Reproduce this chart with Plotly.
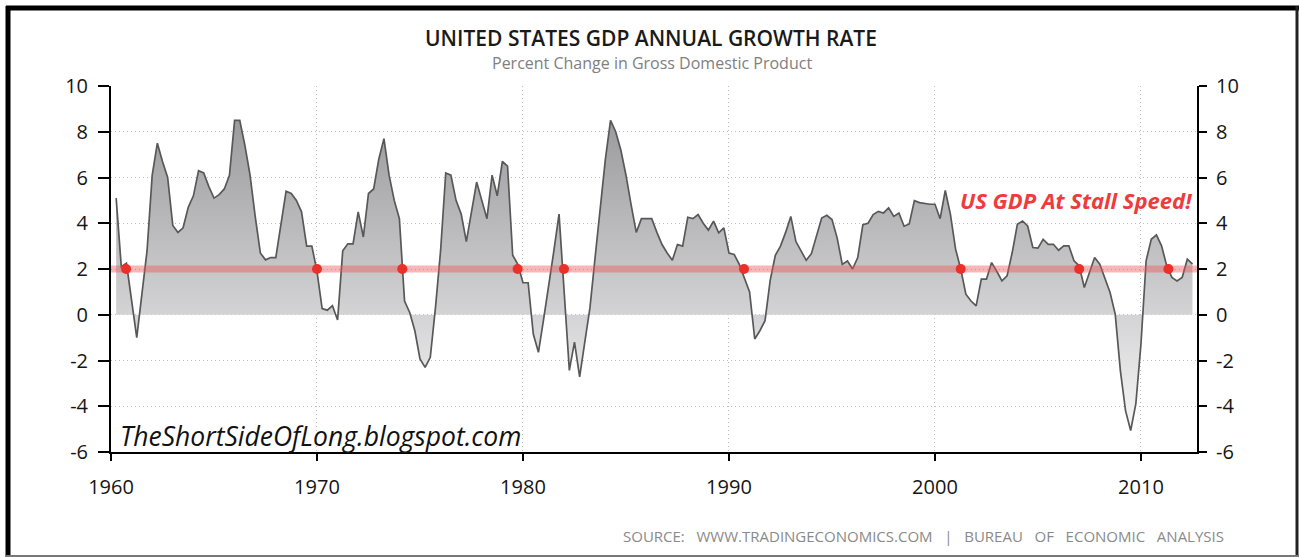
import plotly.graph_objects as go

# ---------------- data (quarterly YoY real GDP growth, %) ----------------
START_YEAR = 1960
gdp_1960s = [5.1, 2.1, 2.25, 0.6,
             -1.0, 0.9, 2.8, 6.1,
             7.5, 6.7, 6.0, 3.9,
             3.6, 3.8, 4.7, 5.2,
             6.3, 6.2, 5.6, 5.1,
             5.25, 5.5, 6.1, 8.5,
             8.5, 7.4, 6.1, 4.3,
             2.7, 2.4, 2.5, 2.5,
             3.9, 5.4, 5.3, 5.0,
             4.5, 3.0, 3.0, 1.9]
gdp_1970s = [0.27, 0.2, 0.4, -0.23,
             2.8, 3.1, 3.1, 4.5,
             3.4, 5.3, 5.5, 6.8,
             7.7, 6.1, 5.0, 4.2,
             0.6, 0.1, -0.7, -1.93,
             -2.3, -1.86, 0.3, 2.8,
             6.2, 6.1, 5.0, 4.4,
             3.2, 4.5, 5.8, 5.0,
             4.2, 6.1, 5.2, 6.7,
             6.5, 2.6, 2.2, 1.4]
gdp_1980s = [1.4, -0.84, -1.64, -0.2,
             1.2, 2.8, 4.4, 1.2,
             -2.43, -1.2, -2.72, -1.2,
             0.3, 2.5, 4.7, 6.8,
             8.5, 8.0, 7.2, 6.1,
             4.8, 3.6, 4.2, 4.2,
             4.2, 3.6, 3.07, 2.7,
             2.38, 3.07, 3.0, 4.26,
             4.2, 4.38, 4.0, 3.7,
             4.09, 3.58, 3.8, 2.7]
gdp_1990s = [2.64, 2.2, 1.6, 1.0,
             -1.06, -0.7, -0.26, 1.5,
             2.6, 3.0, 3.6, 4.3,
             3.2, 2.8, 2.38, 2.67,
             3.5, 4.23, 4.35, 4.16,
             3.36, 2.2, 2.35, 2.0,
             2.5, 3.94, 4.0, 4.38,
             4.52, 4.45, 4.67, 4.3,
             4.45, 3.87, 3.97, 4.99,
             4.9, 4.85, 4.83, 4.83]
gdp_2000s = [4.2, 5.44, 4.39, 2.87,
             2.0, 0.9, 0.6, 0.39,
             1.56, 1.56, 2.28, 1.9,
             1.48, 1.7, 2.72, 3.96,
             4.1, 3.88, 2.94, 2.91,
             3.3, 3.08, 3.08, 2.82,
             3.01, 3.01, 2.36, 2.14,
             1.19, 1.85, 2.5, 2.21,
             1.6, 0.97, 0.03, -2.44,
             -4.19, -5.06, -3.9, -1.28]
gdp_2010s = [2.36, 3.3, 3.49, 3.01,
             2.14, 1.63, 1.48, 1.63,
             2.43, 2.21]

gdp = gdp_1960s + gdp_1970s + gdp_1980s + gdp_1990s + gdp_2000s + gdp_2010s
# quarter-end positions (fractional years)
quarters = [START_YEAR + 0.25 * (i + 1) for i in range(len(gdp))]

STALL_LEVEL = 2
stall_x = [1960.73, 1970.0, 1974.14, 1979.74, 1981.99, 1990.73, 2001.25, 2007.0, 2011.33]
stall_y = [2, 2, 2, 2, 2, 2, 2, 2, 2]

x_ticks = [1960, 1970, 1980, 1990, 2000, 2010]
y_ticks = [-6, -4, -2, 0, 2, 4, 6, 8, 10]
y_tick_text = ["-6", "-4", "-2", "0", "2", "4", "6", "8", "10"]
X_RANGE = [1960, 2012.72]
Y_RANGE = [-6, 10]

TITLE = "UNITED STATES GDP ANNUAL GROWTH RATE"
SUBTITLE = "Percent Change in Gross Domestic Product"
WATERMARK = "TheShortSideOfLong.blogspot.com"
CALLOUT = "US GDP At Stall Speed!"
SP = "\u00a0\u00a0\u00a0"
SOURCE = SP.join(["SOURCE:", "WWW.TRADINGECONOMICS.COM", "|", "BUREAU", "OF", "ECONOMIC", "ANALYSIS"])

# ---------------- layout geometry ----------------
W, H = 1299, 557
ML, MR, MT, MB = 111, 102, 86, 105
PW, PH = W - ML - MR, H - MT - MB
FONT = "Open Sans, Liberation Sans, sans-serif"
GRID_DASH = "1px,3px"


def px(xp):
    return (xp - ML) / PW


def py(yp):
    return (H - MB - yp) / PH


fig = go.Figure()

fig.add_trace(go.Scatter(
    x=quarters, y=gdp, mode="lines",
    line=dict(color="#585858", width=1.7),
    fill="tozeroy",
    fillgradient=dict(type="vertical", start=9, stop=-5,
                      colorscale=[[0, "#98989a"], [0.64, "#d3d3d5"], [1, "#f7f7f7"]]),
    hoverinfo="skip", showlegend=False,
))

# stall-speed band
fig.add_trace(go.Scatter(
    x=X_RANGE, y=[STALL_LEVEL, STALL_LEVEL], mode="lines",
    line=dict(color="rgba(240,80,80,0.42)", width=7),
    hoverinfo="skip", showlegend=False, cliponaxis=False,
))

fig.add_trace(go.Scatter(
    x=stall_x, y=stall_y, mode="markers",
    marker=dict(color="#ea3029", size=10),
    hoverinfo="skip", showlegend=False, cliponaxis=False,
))

# invisible trace so the right-hand axis is drawn
fig.add_trace(go.Scatter(
    x=quarters, y=gdp, yaxis="y2", mode="lines",
    line=dict(width=0, color="rgba(0,0,0,0)"),
    hoverinfo="skip", showlegend=False,
))

axis_font = dict(family=FONT, size=20, color="#151515")

common_y = dict(
    range=Y_RANGE, tickvals=y_ticks, ticktext=y_tick_text,
    showline=True, linecolor="#000", linewidth=2,
    ticks="outside", tickcolor="#000", tickwidth=2,
    tickfont=axis_font, zeroline=False,
)

fig.update_layout(
    width=W, height=H,
    margin=dict(l=ML, r=MR, t=MT, b=MB, pad=0),
    paper_bgcolor="white", plot_bgcolor="white",
    showlegend=False,
    xaxis=dict(
        range=X_RANGE, tickvals=x_ticks, ticktext=[str(t) for t in x_ticks],
        showgrid=True, gridcolor="#bdbdbd", griddash=GRID_DASH, gridwidth=1,
        showline=True, linecolor="#000", linewidth=2,
        ticks="outside", ticklen=7, tickcolor="#000", tickwidth=2,
        ticklabelstandoff=9,
        tickfont=axis_font, zeroline=False,
    ),
    yaxis=dict(showgrid=True, gridcolor="#bdbdbd", griddash=GRID_DASH, gridwidth=1,
               ticklen=11, ticklabelstandoff=6, **common_y),
    yaxis2=dict(overlaying="y", side="right", showgrid=False,
                ticklen=8, ticklabelstandoff=5, **common_y),
)

annotations = [
    dict(text=TITLE, x=px(651), y=py(38), xref="paper", yref="paper",
         showarrow=False, xanchor="center", yanchor="middle",
         font=dict(family=FONT, size=21, color="#1a1a1a", weight=600)),
    dict(text=SUBTITLE, x=px(652), y=py(63), xref="paper", yref="paper",
         showarrow=False, xanchor="center", yanchor="middle",
         font=dict(family=FONT, size=16, color="#808080")),
    dict(text=WATERMARK, x=px(118), y=py(436), xref="paper", yref="paper",
         showarrow=False, xanchor="left", yanchor="middle",
         font=dict(family=FONT, size=26.5, color="#111111", style="italic")),
    dict(text=CALLOUT, x=px(1194), y=py(200), xref="paper", yref="paper",
         showarrow=False, xanchor="right", yanchor="middle",
         font=dict(family=FONT, size=22, color="#ee3b3b", style="italic", weight="bold")),
    dict(text=SOURCE, x=px(1226), y=py(536), xref="paper", yref="paper",
         showarrow=False, xanchor="right", yanchor="middle",
         font=dict(family=FONT, size=15, color="#8a8a8a")),
]
fig.update_layout(annotations=annotations)

# outer frame
shapes = [
    dict(type="line", xref="paper", yref="paper", x0=px(8), x1=px(8), y0=py(6), y1=py(557),
         line=dict(color="#000", width=5)),
    dict(type="line", xref="paper", yref="paper", x0=px(6), x1=px(1299), y0=py(8), y1=py(8),
         line=dict(color="#000", width=5)),
    dict(type="line", xref="paper", yref="paper", x0=px(1297), x1=px(1297), y0=py(6), y1=py(557),
         line=dict(color="#222", width=3)),
    dict(type="line", xref="paper", yref="paper", x0=px(6), x1=px(1299), y0=py(556), y1=py(556),
         line=dict(color="#777", width=2)),
]
fig.update_layout(shapes=shapes)

fig.write_html("out.html",
               config={"displayModeBar": False},
               post_script="document.body.style.margin='0';document.body.style.padding='0';"
                           "document.body.style.overflow='hidden';")
